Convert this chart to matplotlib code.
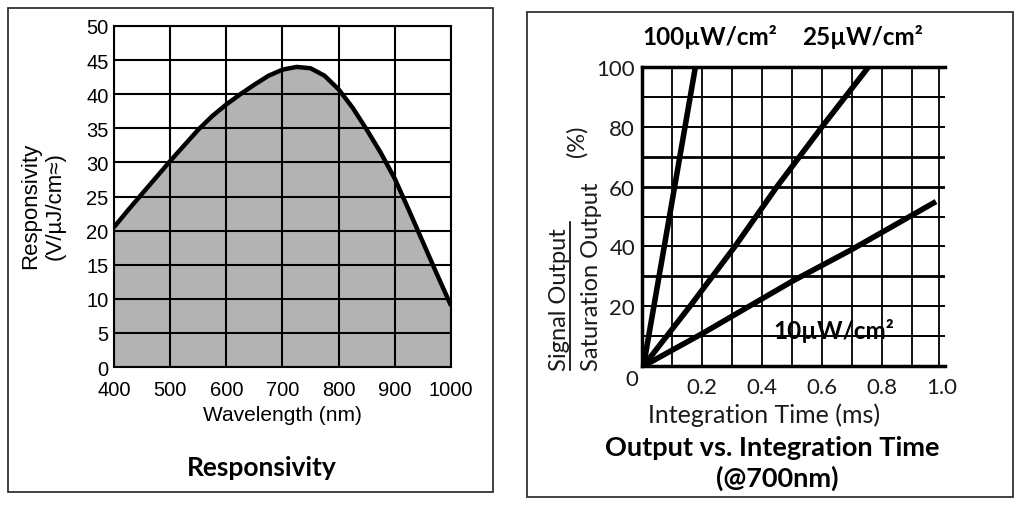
import matplotlib
matplotlib.use("Agg")
import matplotlib.pyplot as plt
from matplotlib.lines import Line2D
from matplotlib.patches import Rectangle

# left panel: responsivity curve
wavelength = [400, 425, 450, 475, 500, 525, 550, 575, 600, 625, 650, 675, 700,
              725, 750, 775, 800, 825, 850, 875, 900, 925, 950, 975, 1000]
responsivity = [20.5, 23.0, 25.4, 27.8, 30.2, 32.5, 34.8, 36.8, 38.5, 40.0, 41.4,
                42.7, 43.6, 44.0, 43.8, 42.7, 40.7, 38.0, 34.8, 31.4, 27.6, 23.0,
                18.3, 13.6, 9.0]
wl_ticks = [400, 500, 600, 700, 800, 900, 1000]
resp_ticks = [0, 5, 10, 15, 20, 25, 30, 35, 40, 45, 50]

# right panel: output vs integration time
t_100 = [0.005, 0.178]
out_100 = [0, 100]
t_25 = [0.005, 0.16, 0.31, 0.45, 0.60, 0.755]
out_25 = [0, 20, 40, 60, 80, 100]
t_10 = [0.005, 0.2, 0.5, 0.7, 0.98]
out_10 = [0, 10.8, 28.3, 39, 55]
t_ticks = [0.2, 0.4, 0.6, 0.8, 1.0]
t_labels = ["0.2", "0.4", "0.6", "0.8", "1.0"]
out_ticks = [20, 40, 60, 80, 100]

arial = ["Liberation Sans", "DejaVu Sans"]
gill = ["Lato", "DejaVu Sans"]
ink = "#1a1a1a"

fig = plt.figure(figsize=(10.16, 5.06), dpi=100)
W, H = 1016, 506


def fx(px):
    return px / W


def fy(py):
    return 1 - py / H


# outer frames
for x0, y0, x1, y1 in [(8, 9, 493, 493), (527, 13, 1013, 498)]:
    fig.patches.append(Rectangle((fx(x0), fy(y1)), fx(x1 - x0), (y1 - y0) / H,
                                 transform=fig.transFigure, fill=False,
                                 edgecolor="#333333", lw=1.3))

# ---- left ----
ax1 = fig.add_axes([fx(114), fy(368), fx(451 - 114), (368 - 27) / H])
ax1.fill_between(wavelength, responsivity, 0, color="#b3b3b3", lw=0, zorder=1)
for v in wl_ticks:
    ax1.axvline(v, color="black", lw=1.5, zorder=2)
for v in resp_ticks:
    ax1.axhline(v, color="black", lw=1.5, zorder=2)
ax1.plot(wavelength, responsivity, color="black", lw=3.2, zorder=3,
         solid_capstyle="butt")
ax1.set_xlim(400, 1000)
ax1.set_ylim(0, 50)
ax1.set_xticks(wl_ticks)
ax1.set_yticks(resp_ticks)
ax1.tick_params(length=0, labelsize=14.5, pad=4)
ax1.tick_params(axis="x", pad=9)
for lab in ax1.get_xticklabels() + ax1.get_yticklabels():
    lab.set_family(arial)
for s in ax1.spines.values():
    s.set_linewidth(1.5)
ax1.set_xlabel("Wavelength (nm)", family=arial, fontsize=15, labelpad=5)
fig.text(fx(43), fy(206), "Responsivity\n(V/µJ/cm≈)", family=arial, fontsize=16,
         rotation=90, ha="center", va="center", multialignment="center",
         linespacing=1.25)
fig.text(fx(262), fy(468), "Responsivity", family=gill, fontsize=19,
         fontweight="bold", ha="center", va="center")

# ---- right ----
ax2 = fig.add_axes([fx(642), fy(367), fx(945 - 642), (367 - 68) / H])
ax2.set_xlim(0, 1.01)
ax2.set_ylim(0, 100)
for v in [0.1, 0.2, 0.3, 0.4, 0.5, 0.6, 0.7, 0.8, 0.9, 0.99]:
    ax2.axvline(v, color="black", lw=1.3, zorder=2)
for v in [10, 20, 30, 40, 50, 60, 70, 80, 90]:
    ax2.axhline(v, color="black", lw=2.0 if v in (30, 60, 70) else 1.4, zorder=2)
for t, o in [(t_100, out_100), (t_25, out_25), (t_10, out_10)]:
    ax2.plot(t, o, color="black", lw=4, zorder=3, solid_capstyle="butt")
ax2.spines["right"].set_visible(False)
ax2.spines["top"].set_linewidth(2.5)
ax2.spines["left"].set_linewidth(2.5)
ax2.spines["bottom"].set_linewidth(2.5)
ax2.set_xticks(t_ticks)
ax2.set_xticklabels(t_labels)
ax2.set_yticks(out_ticks)
ax2.tick_params(length=0, labelsize=16, labelcolor=ink)
ax2.tick_params(axis="y", pad=5)
ax2.tick_params(axis="x", pad=8)
for lab in ax2.get_xticklabels() + ax2.get_yticklabels():
    lab.set_family(gill)
fig.text(fx(632), fy(380), "0", family=gill, fontsize=16, color=ink,
         ha="center", va="center")

fig.text(fx(764), fy(415), "Integration Time (ms)", family=gill, fontsize=18,
         color=ink, ha="center", va="center")
fig.text(fx(772), fy(448), "Output vs. Integration Time", family=gill,
         fontsize=19.5, fontweight="bold", ha="center", va="center")
fig.text(fx(777), fy(478), "(@700nm)", family=gill, fontsize=19.5,
         fontweight="bold", ha="center", va="center")

fig.text(fx(642), fy(37), "100µW/cm²", family=gill, fontsize=17.5,
         fontweight="bold", ha="left", va="center")
fig.text(fx(802), fy(37), "25µW/cm²", family=gill, fontsize=17.5,
         fontweight="bold", ha="left", va="center")
ax2.text(0.64, 12, "10µW/cm²", family=gill, fontsize=17.5, fontweight="bold",
         ha="center", va="center", zorder=4)

# fraction-style y label
fig.text(fx(560), fy(371), "Signal Output", family=gill, fontsize=17,
         color=ink, rotation=90, ha="center", va="bottom")
fig.lines.append(Line2D([fx(570), fx(570)], [fy(371), fy(223)],
                        transform=fig.transFigure, color="black", lw=1.2))
fig.text(fx(591), fy(371), "Saturation Output", family=gill, fontsize=17,
         color=ink, rotation=90, ha="center", va="bottom")
fig.text(fx(577), fy(141), "(%)", family=gill, fontsize=17, color=ink,
         rotation=90, ha="center", va="center")

fig.savefig("out.png", dpi=100)
